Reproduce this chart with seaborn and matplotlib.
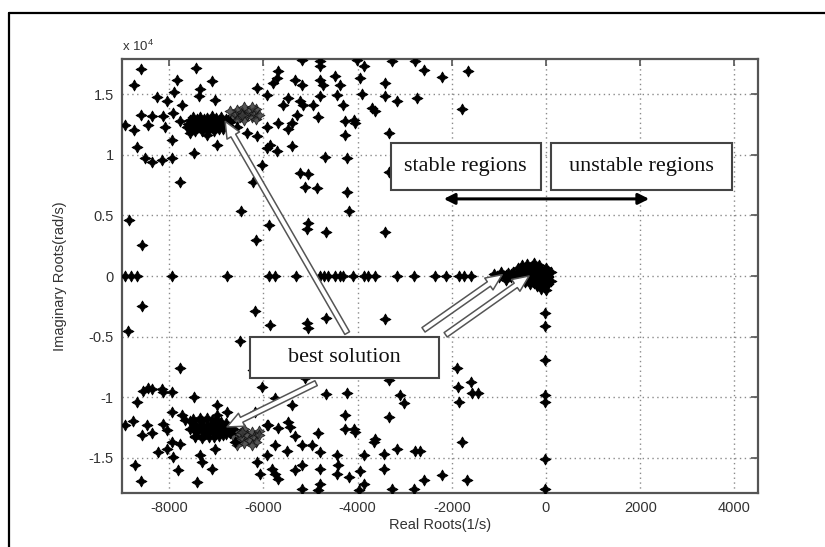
import numpy as np
import pandas as pd
import matplotlib
matplotlib.use("Agg")
import matplotlib.pyplot as plt
from matplotlib.patches import Rectangle
from matplotlib.lines import Line2D
import seaborn as sns

# ---------------- data (roots: real part [1/s], imaginary part [rad/s]) ----------------
upper_real = [-8600, -7430, -8750, -7830, -7090, -7340, -7900, -8250, -8050, -7730, -7360, -7020,
              -6140, -5920, -8600, -8370, -8120, -7910, -8940, -8750, -8440, -8090, -7770, -7630,
              -7550, -6560, -6350, -6140, -5920, -7940, -6990, -8690, -8510, -8370, -8160, -7940,
              -7480, -7200, -7770, -6210, -6030, -5920, -8580, -8850, -6150, -6480,
              -5186, -4794, -4794, -4016, -3873, -3271, -2773, -5697, -5718, -5788, -5326, -5186,
              -4794, -4724, -4475, -4369, -3943, -3411, -3909, -3411, -3164, -2739, -5469, -5575,
              -5220, -5150, -4937, -4794, -4441, -4299, -3696, -3624, -5292, -4831, -5682, -5399,
              -5469, -4262, -4086, -4050, -4262, -3341, -5858, -5718, -5399, -4688, -4228, -5220,
              -5043, -5114, -4867, -4228, -3341, -2596, -2213, -1660, -1788,
              -5870, -4192, -5043, -5079, -4675, -3411]
upper_imag = [17100, 17160, 15780, 16190, 16110, 15420, 15170, 14730, 14400, 14070, 14810, 14540,
              15500, 14950, 13300, 13160, 13160, 13440, 12470, 12060, 12470, 12330, 12750, 12330,
              11790, 12330, 11790, 11510, 12330, 11230, 10820, 10680, 9720, 9390, 9580, 9720,
              10140, 11650, 7790, 7790, 9170, 10550, 2560, 4650, 3000, 5390,
              17840, 17760, 17290, 17840, 17290, 17700, 17700, 16880, 16330, 15920, 16190, 15780,
              16190, 15780, 16460, 15780, 16330, 15920, 15010, 14810, 14400, 14680, 14680, 14120,
              14400, 14120, 14120, 14810, 14950, 14120, 13850, 13570, 13300, 13080, 12610, 12610,
              12140, 12750, 12890, 12610, 11650, 11790, 10820, 10270, 10760, 9850, 9720, 8480,
              8400, 7380, 7240, 6960, 8620, 17020, 16440, 16880, 13790,
              4240, 5390, 4380, 3910, 3630, 3630]

lower_real = [-1888, -1866, -1602, -1568, -1441, -1851, -1781, -2666, -2207, -2596, -1675, -2803,
              -5114, -3341, -5752, -4675, -4228, -3092, -3022, -5399, -4262, -3341, -5895, -5682,
              -5469, -5433, -5326, -4831, -4262, -4086, -4050, -3624, -3660, -5752, -5505, -5186,
              -4973, -4794, -4441, -3873, -3447, -3164, -2773, -5824, -5752, -5326, -5186, -4794,
              -4405, -4441, -3943, -3447, -5682, -5186, -4794, -4831, -4192, -3979, -3873, -3271,
              -8580, -6171, -8867, -5850, -6490, -5079, -5043, -4675, -3411,
              -7767, -8442, -8157, -8123, -8548, -8369, -7944, -8689, -7469, -6986, -6029, -8938,
              -8761, -8476, -8369, -8582, -8123, -8050, -7944, -7731, -7661, -6986, -6773, -5922,
              -8229, -7944, -7767, -8050, -7910, -7342, -7305, -7022, -6597, -6135, -5922, -8725,
              -7804, -7093, -8604, -7412, -6065, -6210, -6180]
lower_imag = [-7570, -9140, -8730, -9690, -9690, -10430, -13690, -14460, -16380, -16850, -16850, -17540,
              -8450, -8590, -10100, -9770, -9610, -9830, -10510, -10660, -11480, -11620, -12310, -12530,
              -12040, -12450, -13190, -12910, -12580, -12580, -12860, -13460, -13690, -13960, -14460, -13960,
              -13960, -14510, -14790, -14790, -14650, -14230, -14460, -15880, -16300, -16020, -15610, -15880,
              -15610, -16300, -16110, -15880, -16710, -17590, -17120, -17680, -16580, -17680, -17120, -17540,
              -2500, -2920, -4570, -4030, -5340, -3880, -4300, -3470, -3530,
              -7620, -9230, -9280, -9560, -9500, -9280, -9560, -10380, -9970, -10660, -9140, -12310,
              -11980, -12310, -12990, -13130, -12170, -12720, -11210, -11480, -11890, -11480, -11210, -12310,
              -14510, -13690, -13820, -14230, -14930, -14790, -15340, -14230, -13690, -15340, -14790, -15610,
              -16020, -15880, -16930, -16990, -16300, -7790, -11230]

# dense root clusters (the "best solution" region)
cluster_real = [-7600, -7550, -7500, -7450, -7400, -7350, -7300, -7300, -7250, -7200, -7200, -7150,
                -7150, -7100, -7050, -7050, -7000, -7000, -6950, -6950, -6900, -6850, -6850, -6800,
                -6750, -6750, -6700, -7250, -7400, -7500, -7350, -7200, -7100, -7000, -6900, -6800,
                -7450, -7300, -7150, -7050, -6950, -6850, -7550, -7400, -7250, -7100, -6950,
                -7550, -7500, -7450, -7400, -7350, -7300, -7300, -7250, -7200, -7200, -7150, -7100,
                -7100, -7050, -7000, -7000, -6950, -6900, -6900, -6850, -6800, -6800, -6750, -6700,
                -7350, -7000, -7450, -6650, -7500, -7350, -7200, -7100, -7000, -6900, -6800,
                -7450, -7300, -7150, -7050, -6950, -6850, -7550, -7400, -7250, -7100, -6950]
cluster_imag = [12500, 12100, 12400, 12700, 12200, 12550, 12800, 12300, 12600, 12150, 12450, 12750,
                12300, 12550, 12200, 12850, 12450, 12650, 12300, 12900, 12550, 12750, 12350, 12600,
                12900, 12450, 12700, 12950, 12950, 13150, 13100, 13050, 13200, 13000, 13100, 12950,
                12000, 11950, 12050, 12000, 12100, 12150, 12850, 12650, 12400, 12350, 12700,
                -12000, -12500, -12200, -12800, -12400, -12000, -12700, -13100, -12300, -12600, -12900, -12100,
                -12500, -12800, -12350, -13050, -12600, -12900, -12300, -12700, -13000, -12450, -12750, -12950,
                -11700, -11800, -13200, -12600, -11800, -11900, -11700, -11850, -11950, -12050, -12150,
                -13300, -13350, -13250, -13300, -13200, -13150, -12650, -12850, -12550, -12650, -12450]

halo_real = [-6650, -6600, -6550, -6500, -6450, -6400, -6400, -6350, -6300, -6250, -6200, -6150,
             -6150, -6100, -6450, -6550, -6250, -6700,
             -6650, -6600, -6550, -6500, -6450, -6400, -6400, -6350, -6300, -6250, -6200, -6150,
             -6100, -6100, -6450, -6550, -6250]
halo_imag = [13000, 13400, 13700, 13100, 13500, 13900, 12900, 13300, 13600, 13100, 13450, 13800,
             12950, 13300, 13250, 12850, 13900, 13600,
             -13200, -12700, -13600, -13000, -13400, -13800, -12600, -13150, -13550, -12900, -13300, -13700,
             -12800, -13150, -12850, -13950, -13900]

# real roots on the real axis
axis_real = [-8940, -8800, -8690, -7940, -6770, -5890, -5750, -5310, -4790, -4720, -4620, -4480,
             -4370, -4300, -4090, -3870, -3770, -3620, -3160, -2810, -2350, -2130, -1850, -1750, -1600]
axis_imag = [0] * len(axis_real)

# roots close to the origin
origin_real = [-1100, -1000, -950, -900, -850, -800, -750, -700, -650, -600, -1050, -950, -850, -750,
               -600, -550, -550, -500, -500, -450, -400, -400, -400, -350, -300, -300, -300, -250,
               -250, -200, -200, -150, -150, -100, -100, -50, -50, 0, 0, 0, 50, 50, -100, 0, 50, -200,
               -600, -550, -500, -450, -450, -350, -350, -250, -250, -150, -150, -50, -50, 50, 100, 100,
               -20, -20, -20, -20, -20, -20, -20]
origin_imag = [200, -100, 300, 0, -300, 250, -50, 350, -250, 100, 0, 150, 50, 200,
               700, 400, -300, 900, 100, -500, 1000, 500, -100, -700, 800, 200, -400, 1050,
               600, -200, -800, 900, 300, -500, 600, 0, -900, 700, 200, -300, -700, 400, -1100, -1150, -100, 350,
               -100, 600, -200, 700, 300, 400, -300, 300, -600, 100, -400, 400, -600, 0, 300, -400,
               -3060, -4150, -6940, -9830, -10380, -15120, -17590]

x_ticks = [-8000, -6000, -4000, -2000, 0, 2000, 4000]
y_ticks = [-15000, -10000, -5000, 0, 5000, 10000, 15000]
y_tick_labels = ["-1.5", "-1", "-0.5", "0", "0.5", "1", "1.5"]

# ---------------- build tables ----------------
main_df = pd.DataFrame({
    "real": upper_real + lower_real + cluster_real + axis_real + origin_real,
    "imag": upper_imag + lower_imag + cluster_imag + axis_imag + origin_imag,
})
halo_df = pd.DataFrame({"real": halo_real, "imag": halo_imag})

# ---------------- figure ----------------
sns.set_style("white")
plt.rcParams["font.family"] = ["Liberation Sans", "DejaVu Sans"]
plt.rcParams["mathtext.fontset"] = "custom"
plt.rcParams["mathtext.rm"] = "Liberation Sans"
plt.rcParams["mathtext.it"] = "Liberation Sans"

fig = plt.figure(figsize=(8.25, 5.47), dpi=100)
ax = fig.add_axes([122 / 825, 54 / 547, 636 / 825, 434 / 547])

star = (4, 1, 0)
sns.scatterplot(data=halo_df, x="real", y="imag", ax=ax, marker=star, s=62,
                color="#3a3a3a", edgecolor="#111111", linewidth=0.6, alpha=0.85, zorder=3)
sns.scatterplot(data=main_df, x="real", y="imag", ax=ax, marker=star, s=62,
                color="black", edgecolor="black", linewidth=0.6, zorder=3)

ax.set_xlim(-9000, 4500)
ax.set_ylim(-17900, 17900)
ax.set_xticks(x_ticks)
ax.set_xticklabels([str(v) for v in x_ticks])
ax.set_yticks(y_ticks)
ax.set_yticklabels(y_tick_labels)

ax.grid(True, color="#8a8a8a", linestyle=(0, (1, 2.5)), linewidth=1.0)
ax.set_axisbelow(True)
for sp in ax.spines.values():
    sp.set_color("#555555")
    sp.set_linewidth(1.6)
ax.tick_params(direction="in", length=5, width=1.2, color="#555555",
               top=True, right=True, labelsize=10.5, labelcolor="#333333", pad=6)

ax.set_xlabel("Real Roots(1/s)", fontsize=10.5, color="#333333")
ax.set_ylabel("Imaginary Roots(rad/s)", fontsize=10.5, color="#333333")
ax.xaxis.set_label_coords(0.5, -0.058)
ax.yaxis.set_label_coords(-0.086, 0.5)
ax.text(0.0, 1.012, r"x 10$^4$", transform=ax.transAxes, fontsize=9.5,
        color="#333333", ha="left", va="bottom")

# ---------------- annotations ----------------
serif = ["Liberation Serif", "DejaVu Serif"]
boxes = [((-3300, 7100), 3194, 3890, "stable regions"),
         ((106, 7100), 3834, 3890, "unstable regions"),
         ((-6280, -8450), 4000, 3440, "best solution")]
for (x0, y0), w, h, label in boxes:
    ax.add_patch(Rectangle((x0, y0), w, h, facecolor="white", edgecolor="#444444",
                           linewidth=1.5, zorder=6))
    ax.text(x0 + w / 2, y0 + h / 2, label, ha="center", va="center",
            fontsize=16, family=serif, color="#111111", zorder=7)

ax.annotate("", xy=(2190, 6360), xytext=(-2170, 6360),
            arrowprops=dict(arrowstyle="<|-|>", color="black", lw=2.2,
                            mutation_scale=16, shrinkA=0, shrinkB=0), zorder=7)

hollow = dict(arrowstyle="simple,head_length=0.9,head_width=0.8,tail_width=0.3",
              fc="white", ec="#555555", lw=1.1, mutation_scale=13, shrinkA=0, shrinkB=0)
for tail, head in [((-4220, -4710), (-6810, 12750)),
                   ((-4880, -8840), (-6770, -12450)),
                   ((-2600, -4440), (-930, 110)),
                   ((-2130, -4850), (-360, 0))]:
    ax.annotate("", xy=head, xytext=tail, arrowprops=hollow, zorder=5)

# outer frame of the figure
fig.add_artist(Line2D([9 / 825, 9 / 825], [0, 1 - 13 / 547], color="black", lw=1.6,
                      transform=fig.transFigure))
fig.add_artist(Line2D([9 / 825, 1], [1 - 13 / 547, 1 - 13 / 547], color="black", lw=1.6,
                      transform=fig.transFigure))

fig.savefig("out.png", dpi=100)
